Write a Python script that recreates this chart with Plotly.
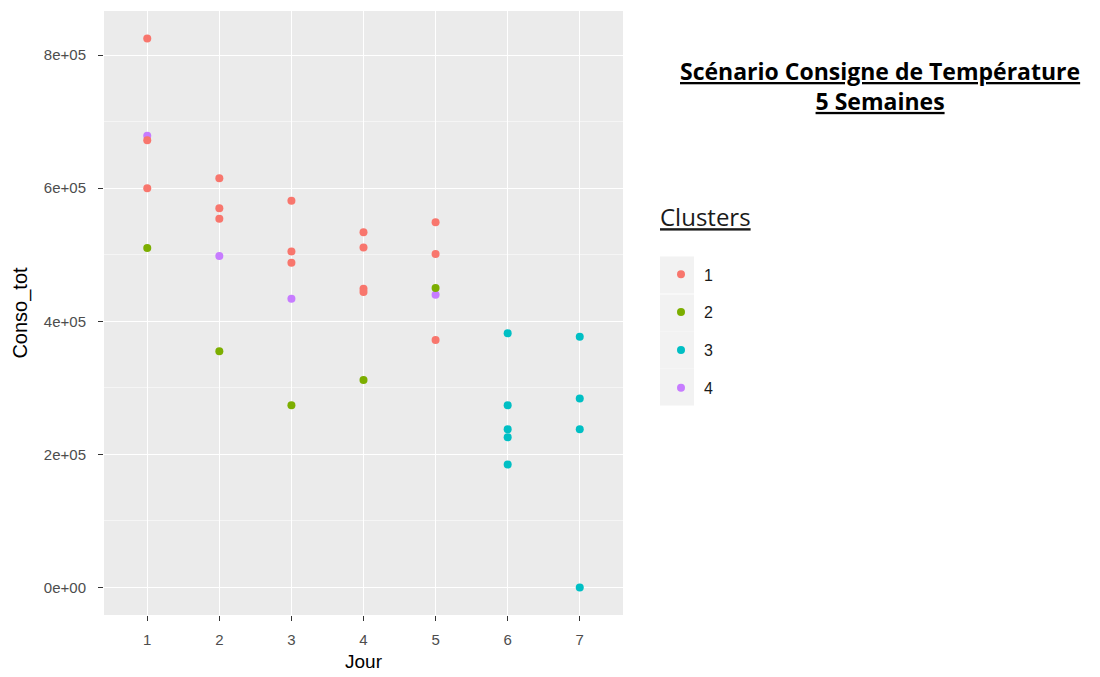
import plotly.graph_objects as go

# ---- data ----
clusters = ["1", "2", "3", "4"]
colors = ["#F8766D", "#7CAE00", "#00BFC4", "#C77CFF"]

c1_jour = [1, 1, 1, 2, 2, 2, 3, 3, 3, 4, 4, 4, 4, 5, 5, 5]
c1_conso = [825000, 672000, 600000, 615000, 570000, 554000, 581000, 505000, 488000,
            534000, 511000, 449000, 444000, 549000, 501000, 372000]
c2_jour = [1, 2, 3, 4, 5]
c2_conso = [510000, 355000, 274000, 312000, 450000]
c3_jour = [6, 6, 6, 6, 6, 7, 7, 7, 7]
c3_conso = [382000, 274000, 238000, 226000, 185000, 377000, 284000, 238000, 0]
c4_jour = [1, 2, 3, 5]
c4_conso = [679000, 498000, 434000, 440000]

series_jour = [c1_jour, c2_jour, c3_jour, c4_jour]
series_conso = [c1_conso, c2_conso, c3_conso, c4_conso]

x_ticks = [1, 2, 3, 4, 5, 6, 7]
y_ticks = [0, 200000, 400000, 600000, 800000]
y_ticktext = ["0e+00", "2e+05", "4e+05", "6e+05", "8e+05"]

title_line1 = "Scénario Consigne de Température"
title_line2 = "5 Semaines"
legend_title = "Clusters"

# ---- figure ----
fig = go.Figure()
draw_order = [3, 0, 1, 2]
for i in draw_order:
    fig.add_trace(go.Scatter(
        x=series_jour[i], y=series_conso[i], mode="markers",
        name=clusters[i], legendgroup=clusters[i], legendrank=i + 1,
        marker=dict(color=colors[i], size=8, line=dict(width=0)),
    ))

all_y = [v for s in series_conso for v in s]
ymin, ymax = min(all_y), max(all_y)
pad = 0.05 * (ymax - ymin)

OFF = 8  # page body margin
L, R, T, B = 96, 485, 3, 70
W, H = 1100, 677
pw, ph = W - L - R, H - T - B

def px_x(p):
    return (p - OFF - L) / pw

def px_y(p):
    return (H - B - (p - OFF)) / ph

fig.update_layout(
    width=W, height=H,
    margin=dict(l=L, r=R, t=T, b=B, autoexpand=False),
    paper_bgcolor="white",
    plot_bgcolor="#EBEBEB",
    font=dict(family="Liberation Sans, Arial, sans-serif", color="#4D4D4D"),
    showlegend=True,
    legend=dict(
        title=dict(text="<u>" + legend_title + "</u><br> ",
                   font=dict(family="Open Sans, sans-serif", size=24, color="#1A1A1A")),
        font=dict(size=16, color="#1A1A1A"),
        x=px_x(658), xanchor="left",
        y=px_y(195), yanchor="top",
        bgcolor="rgba(0,0,0,0)",
        traceorder="grouped",
        tracegroupgap=14,
        itemwidth=36,
    ),
    xaxis=dict(
        range=[0.4, 7.6],
        tickvals=x_ticks, ticktext=[str(v) for v in x_ticks],
        showgrid=True, gridcolor="white", gridwidth=1.3,
        zeroline=False,
        ticks="outside", ticklen=5, tickcolor="#333333", tickwidth=1.2,
        ticklabelstandoff=6,
        tickfont=dict(size=15, color="#4D4D4D"),
        title=dict(text="Jour", font=dict(size=19, color="black"), standoff=7),
        showline=False,
    ),
    yaxis=dict(
        range=[ymin - pad, ymax + pad],
        tickvals=y_ticks, ticktext=y_ticktext,
        showgrid=True, gridcolor="white", gridwidth=1.3,
        minor=dict(dtick=100000, tick0=0, showgrid=True, gridcolor="#F5F5F5", gridwidth=0.7),
        zeroline=False,
        ticks="outside", ticklen=5, tickcolor="#333333", tickwidth=1.2,
        ticklabelstandoff=9,
        tickfont=dict(size=15, color="#4D4D4D"),
        title=dict(text="Conso_tot", font=dict(size=20, color="black"), standoff=10),
        showline=False,
    ),
)

key_centers = [275, 313, 350, 387]
for c in key_centers:
    fig.add_shape(type="rect", xref="paper", yref="paper",
                  x0=px_x(660), x1=px_x(694), y0=px_y(c + 18.5), y1=px_y(c - 18.5),
                  fillcolor="#F2F2F2", line=dict(width=0), layer="below")

fig.add_annotation(
    xref="paper", yref="paper", x=px_x(880), y=px_y(86),
    xanchor="center", yanchor="middle", showarrow=False,
    text="<b><u>" + title_line1 + "</u></b><br><b><u>" + title_line2 + "</u></b>",
    font=dict(family="Open Sans, sans-serif", size=23, color="black"),
    align="center",
)

fig.write_html("out.html")
